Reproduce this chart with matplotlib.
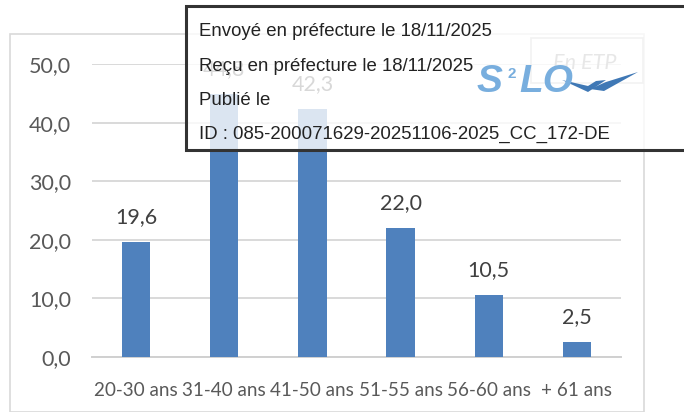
import matplotlib.pyplot as plt
from matplotlib.patches import Rectangle, Polygon

categories = ["20-30 ans", "31-40 ans", "41-50 ans", "51-55 ans", "56-60 ans", "+ 61 ans"]
etp = [19.6, 44.8, 42.3, 22.0, 10.5, 2.5]
yticks = [0, 10, 20, 30, 40, 50]

W, H = 684, 412
BLUE = "#4f81bd"
TXT = "#595959"


def fx(px):
    return px / W


def fy(py):
    return (H - py) / H


plt.rcParams["font.family"] = ["Lato", "DejaVu Sans"]

fig = plt.figure(figsize=(W / 100, H / 100), dpi=100)

# outer chart frame
fig.add_artist(Rectangle((fx(10), fy(412)), fx(644) - fx(10), fy(34) - fy(412),
                         transform=fig.transFigure, fill=False, ec="#d9d9d9", lw=1.2))

ax = fig.add_axes([fx(92), fy(357), fx(621) - fx(92), fy(64) - fy(357)])
x = range(len(categories))
ax.bar(x, etp, width=0.32, color=BLUE, zorder=3)
for xi, v in zip(x, etp):
    ax.text(xi, v + 4.3, f"{v:.1f}".replace(".", ","), ha="center", va="center",
            fontsize=15.5, color="#404040", clip_on=False)

ax.set_xlim(-0.5, len(categories) - 0.5)
ax.set_ylim(0, 50)
ax.set_yticks(yticks)
ax.set_yticklabels([f"{t:.1f}".replace(".", ",") for t in yticks])
ax.set_xticks(list(x))
ax.set_xticklabels(categories)
ax.tick_params(axis="both", length=0, colors=TXT)
ax.tick_params(axis="y", pad=15, labelsize=15.5)
ax.tick_params(axis="x", pad=18, labelsize=13.6)
ax.grid(axis="y", color="#d9d9d9", lw=1.4, zorder=0)
for s in ["top", "right", "left"]:
    ax.spines[s].set_visible(False)
ax.spines["bottom"].set_color("#d0d0d0")
ax.spines["bottom"].set_linewidth(1.4)

# legend-like label box
fig.add_artist(Rectangle((fx(531), fy(83)), fx(643) - fx(531), fy(38) - fy(83),
                         transform=fig.transFigure, fill=False, ec="#bfbfbf", lw=1.2))
fig.text(fx(585), fy(63), "En ETP", ha="center", va="center", fontsize=15.5,
         style="italic", color="#8c8c8c")

# stamp overlay
fig.add_artist(Rectangle((fx(186), fy(150)), fx(700) - fx(186), fy(6) - fy(150),
                         transform=fig.transFigure, fc=(1, 1, 1, 0.8), ec="#333333", lw=2.2,
                         zorder=5))
stamp = ["Envoyé en préfecture le 18/11/2025",
         "Reçu en préfecture le 18/11/2025",
         "Publié le",
         "ID : 085-200071629-20251106-2025_CC_172-DE"]
for i, line in enumerate(stamp):
    fig.text(fx(199), fy(32 + i * 34.3), line, ha="left", va="center", fontsize=13.4,
             family=["Liberation Sans", "DejaVu Sans"], color="#222222", zorder=6)

# S2LO logo
logo = dict(weight="bold", style="italic", color="#78aede", zorder=7,
            family=["Liberation Sans"], va="center", ha="left")
fig.text(fx(477), fy(82), "S", fontsize=28, **logo)
fig.text(fx(508), fy(74), "2", fontsize=11, **{**logo, "style": "normal"})
fig.text(fx(519), fy(82), "LO", fontsize=28, **logo)
check1 = [(562, 80), (588, 92), (606, 80), (596, 81), (588, 86)]
check2 = [(590, 89), (604, 91), (638, 72), (606, 82)]
for pts in (check1, check2):
    fig.add_artist(Polygon([(fx(a), fy(b)) for a, b in pts], closed=True,
                           transform=fig.transFigure, fc="#3f78b5", ec="none", zorder=7))

fig.savefig("out.png", dpi=100)
